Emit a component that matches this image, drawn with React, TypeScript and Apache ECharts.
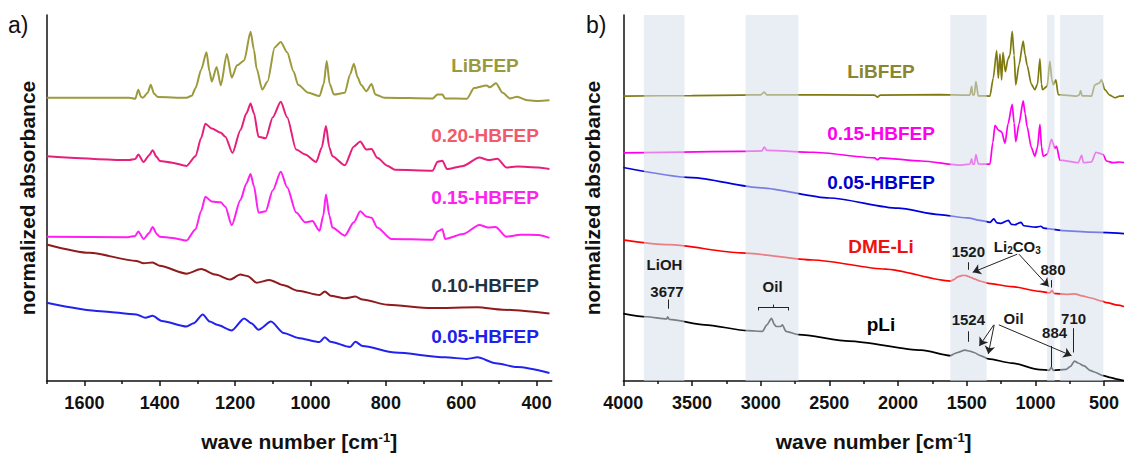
import React, { useEffect, useRef } from 'react';
import * as echarts from 'echarts';

const FONT = '"Liberation Sans", Arial, Helvetica, sans-serif';

// ---------- axes ----------
const A_TICKS = [1600, 1400, 1200, 1000, 800, 600, 400];
const A_MINOR = [1700, 1500, 1300, 1100, 900, 700, 500];
const B_TICKS = [4000, 3500, 3000, 2500, 2000, 1500, 1000, 500];
const B_MINOR = [3750, 3250, 2750, 2250, 1750, 1250, 750];

// ---------- panel a spectra: [wavenumber, offset absorbance (a.u.)] ----------
const A_LIBFEP: number[][] = [
  [1700, 291], [1481, 291], [1465, 290], [1457, 299.3], [1450, 292], [1445, 291], [1432, 296], [1424, 304.3],
  [1415, 295], [1405, 291.7], [1329, 291], [1315, 293], [1305, 301], [1290, 320], [1276, 337.7], [1268, 318],
  [1262, 307.7], [1249, 322.7], [1238, 303.7], [1222, 336], [1209, 311.7], [1195, 324.3], [1176, 329.3],
  [1159, 358.7], [1150, 340], [1143, 321], [1128, 299.3], [1114, 307.7], [1095, 342.7], [1079, 348.3],
  [1062, 337.7], [1045, 318], [1033, 304.3], [1005, 296], [976, 292.7], [965, 305], [957, 328.7], [949, 305],
  [938, 294.3], [909, 296], [895, 315], [885, 326], [875, 312], [866, 304.3], [852, 297.7], [838, 305],
  [828, 294.3], [804, 291], [676, 290.3], [663, 294.3], [650, 294.3], [643, 290.3], [585, 290], [566, 301],
  [533, 303.7], [524, 301.7], [508, 306], [490, 296], [471, 290.3], [452, 292], [423, 288.3], [395, 287.7],
  [366, 288.3],
];
const A_HB020: number[][] = [
  [1700, 231], [1481, 227], [1465, 228], [1457, 232.7], [1443, 225], [1428, 232], [1419, 237], [1408, 230],
  [1400, 226], [1367, 224.3], [1329, 221], [1305, 231], [1290, 250], [1279, 264.3], [1262, 259.3], [1238, 255],
  [1226, 251], [1207, 234.3], [1186, 257.7], [1170, 275], [1159, 285], [1150, 275], [1138, 251], [1119, 249.3],
  [1100, 271], [1079, 287], [1062, 271], [1038, 237.7], [1014, 232.7], [985, 225], [970, 240], [959, 262],
  [950, 240], [942, 231], [909, 221.7], [885, 241], [868, 246], [852, 237.7], [838, 238.3], [823, 229.3],
  [795, 221], [776, 217], [676, 216], [663, 225.3], [650, 226.3], [638, 217.7], [595, 221], [552, 229.7],
  [528, 227], [504, 228.3], [480, 219.3], [452, 220.3], [395, 219.3], [366, 217.7],
];
const A_HB015: number[][] = [
  [1700, 148.3], [1485, 147.7], [1465, 149], [1457, 153.7], [1443, 146], [1428, 152], [1419, 158.3], [1408, 151],
  [1400, 148.3], [1367, 147], [1329, 144.3], [1305, 156], [1290, 175], [1279, 189.3], [1262, 184.3], [1238, 183.7],
  [1226, 179], [1209, 160], [1186, 186], [1170, 203], [1159, 212.7], [1150, 200], [1138, 173], [1119, 174.3],
  [1100, 196], [1079, 215], [1062, 199], [1038, 173], [1014, 163], [995, 164.3], [976, 154.3], [966, 170],
  [959, 191.7], [950, 170], [942, 157.7], [909, 149.3], [885, 163], [868, 174.3], [852, 169], [838, 167.7],
  [823, 157.7], [786, 146], [676, 145], [663, 153.7], [650, 156], [643, 146], [595, 151], [552, 160.3],
  [528, 157.7], [509, 158.3], [480, 148.3], [442, 150.3], [395, 150], [366, 147],
];
const A_HB010: number[][] = [
  [1700, 140.3], [1586, 131.7], [1462, 123.3], [1443, 121], [1419, 121.7], [1400, 118.3], [1329, 110.3],
  [1290, 115], [1252, 109.3], [1214, 104.3], [1186, 109.3], [1166, 107.7], [1143, 101], [1109, 103.7],
  [1071, 98.3], [1033, 92.7], [976, 88.3], [962, 92], [947, 87.7], [909, 85], [881, 86.7], [862, 83.7],
  [795, 78.3], [680, 75], [557, 75.7], [490, 73.3], [366, 69.3],
];
const A_HB005: number[][] = [
  [1700, 80.3], [1557, 71.7], [1462, 68.3], [1438, 65], [1419, 67], [1395, 61.7], [1329, 56], [1310, 59.3],
  [1286, 68.3], [1267, 61], [1248, 57.7], [1209, 52], [1176, 64.3], [1157, 59.3], [1138, 52.7], [1105, 61],
  [1071, 49.3], [1033, 44.3], [976, 40], [962, 45], [947, 40.3], [895, 35], [881, 40.3], [862, 36],
  [776, 29.3], [643, 24.3], [585, 22.7], [557, 24.3], [509, 18.3], [452, 14.3], [366, 8.3],
];

// ---------- panel b spectra ----------
const B_LIBFEP: number[][] = [
  [4000, 292.7], [3500, 293.2], [3145, 293.7], [3000, 294], [2974, 296.7], [2955, 294], [2171, 293.7],
  [2150, 291.7], [2130, 293.7], [1695, 294.3], [1477, 293.7], [1464, 302.7], [1457, 294], [1445, 294],
  [1433, 307.7], [1416, 293], [1331, 292.7], [1307, 311], [1282, 339.3], [1270, 311], [1258, 336],
  [1246, 309.3], [1236, 337.7], [1219, 317.7], [1199, 331], [1185, 335], [1169, 359.3], [1155, 335],
  [1143, 304.3], [1119, 325], [1089, 349.3], [1075, 335], [1060, 324.3], [1030, 305], [1004, 299.3],
  [985, 305], [967, 331], [956, 305], [948, 299.3], [914, 303], [895, 328.3], [880, 310], [870, 304.3],
  [851, 309.3], [834, 294.3], [700, 292.7], [680, 294], [671, 298.3], [660, 293], [592, 292.7], [567, 304.3],
  [536, 306], [519, 309.3], [495, 299.3], [459, 293.7], [423, 291], [386, 292.7], [355, 293],
];
const B_HB015: number[][] = [
  [4000, 234.3], [3145, 236], [2990, 236.5], [2974, 240.3], [2955, 237], [2618, 235], [2171, 229.3],
  [2150, 227.3], [2130, 229.3], [1829, 226], [1539, 221.7], [1477, 222.7], [1464, 228.3], [1457, 222.7],
  [1445, 222.7], [1433, 232.7], [1416, 223], [1331, 222.7], [1310, 245], [1294, 262.7], [1270, 257.7],
  [1246, 256], [1221, 244.3], [1199, 264.3], [1169, 284.3], [1155, 265], [1143, 246], [1119, 264.3],
  [1089, 287.7], [1075, 275], [1060, 261], [1030, 240], [1004, 231], [985, 240], [967, 263.7], [955, 240],
  [943, 231], [914, 233], [883, 248.3], [858, 239.3], [846, 241], [822, 227], [688, 224.3], [663, 231.7],
  [650, 224.3], [592, 225], [559, 235], [536, 234], [507, 232.7], [483, 226], [435, 224.3], [386, 225],
  [355, 224.3],
];
const B_HB005: number[][] = [
  [4000, 219.3], [3500, 209], [3000, 198.5], [2500, 188], [2000, 177.5], [1700, 171], [1500, 167.5],
  [1380, 164.5], [1330, 163], [1303, 166.5], [1280, 162.5], [1250, 162], [1197, 165], [1175, 161],
  [1150, 160.5], [1105, 163], [1085, 159.5], [1000, 158], [961, 159], [940, 157], [884, 156], [800, 154.5],
  [600, 153], [355, 151.5],
];
const B_DMELI: number[][] = [
  [4000, 145], [3671, 140], [3145, 131.7], [2618, 124.3], [2092, 115], [1618, 102.7], [1590, 104.5],
  [1566, 107], [1530, 108.5], [1505, 108.3], [1470, 106.5], [1447, 105], [1400, 102.5], [1342, 100.3],
  [1171, 97], [968, 92], [895, 90.5], [880, 93], [865, 90], [776, 89], [712, 89.5], [660, 87.5], [603, 85.5],
  [513, 82], [482, 80.5], [400, 78], [355, 76.5],
];
const B_PLI: number[][] = [
  [4000, 69.3], [3829, 66], [3684, 63.7], [3677, 66], [3665, 63.3], [3408, 57.7], [3092, 51.7], [2987, 51],
  [2955, 57.7], [2921, 64.3], [2900, 58], [2887, 56], [2855, 56], [2842, 57.7], [2816, 51], [2724, 47.7],
  [2355, 41], [1829, 31.7], [1618, 26], [1590, 28], [1566, 29.3], [1513, 31.7], [1470, 30.5], [1447, 29.3],
  [1400, 26], [1342, 22.7], [1171, 18.3], [968, 11.7], [900, 11], [884, 14], [870, 11], [776, 12], [745, 15],
  [715, 20.5], [690, 18.5], [645, 15.5], [603, 11], [566, 9], [507, 5.5], [450, 3.5], [408, 2], [355, 0.3],
];

// shaded regions in panel b (wavenumber limits)
const B_BAND_START = [3850, 3110, 1620, 915, 820];
const B_BAND_END = [3555, 2725, 1355, 860, 505];

// series names (labels)
const A_NAMES = ['LiBFEP', '0.20-HBFEP', '0.15-HBFEP', '0.10-HBFEP', '0.05-HBFEP'];
const B_NAMES = ['LiBFEP', '0.15-HBFEP', '0.05-HBFEP', 'DME-Li', 'pLi'];
// label anchor positions (data coords)
const A_LABEL_WN = 537;
const A_LABEL_ABS = [324.3, 252.7, 188.7, 98.3, 46];
const B_LABEL_WN = 2124;
const B_LABEL_ABS = [318.3, 254.3, 203.7, 137.7, 57.7];

// annotations in panel b
const NOTE_TEXT = ['LiOH', '3677', 'Oil', '1520', 'Li{sub|2}CO{sub|3}', '880', '1524', 'Oil', '884', '710'];
const NOTE_WN = [3700, 3682, 2913, 1488, 1132, 872, 1488, 1159, 860, 722];
const NOTE_ABS = [119.3, 92, 97, 132.7, 137.7, 115, 62.7, 64.3, 50.3, 64.3];
// [w1, v1, w2, v2]
const NOTE_TICKS = [
  [3673, 83.7, 3673, 74.3], [1488, 122, 1488, 114.3], [887, 103.7, 887, 96], [1488, 51, 1488, 40.3],
  [882, 36, 882, 14.3], [722, 54.3, 722, 29.3],
  [3014, 76, 2798, 76], [3014, 76, 3014, 72.5], [2798, 76, 2798, 72.5], [2907, 76, 2907, 78.5],
];
const NOTE_ARROWS = [
  [1132, 130.3, 1456, 111.7], [1120, 130.3, 903, 97],
  [1303, 57.7, 1408, 36], [1300, 57.7, 1343, 27.7], [1266, 57.7, 737, 26],
];

const A_COLORS = ['#9c9a3c', '#e6207a', '#ff1ff0', '#8e1c1c', '#2222ee'];
const A_TEXT_COLORS = ['#999a3e', '#f05a6a', '#ff22ee', '#1f3343', '#2020ee'];
const B_COLORS = ['#7f7a10', '#ff00ee', '#0000dd', '#ff0000', '#000000'];
const B_TEXT_COLORS = ['#8a8630', '#ff00ee', '#0000cc', '#ee1111', '#000000'];

export default function App() {
  const ref = useRef<HTMLDivElement>(null);
  useEffect(() => {
    if (!ref.current) return;
    const chart = echarts.init(ref.current, undefined, { renderer: 'svg' });

    const axisName = {
      fontSize: 21, fontWeight: 'bold' as const, color: '#111', fontFamily: FONT,
      rich: { sup: { fontSize: 13, fontWeight: 'bold' as const, color: '#111', fontFamily: FONT, verticalAlign: 'top' as const } },
    };
    const mainX = (grid: number, min: number, max: number, ticks: number[]) => ({
      type: 'value', gridIndex: grid, min, max, inverse: true, position: 'bottom',
      name: 'wave number [cm{sup|-1}]', nameLocation: 'middle', nameGap: 50, nameTextStyle: axisName,
      axisLine: { show: true, onZero: false, lineStyle: { color: '#111', width: 1.5 } },
      axisTick: { show: true, customValues: ticks, length: 5, lineStyle: { color: '#111', width: 1.5 } },
      axisLabel: {
        show: true, customValues: ticks, margin: 13, fontSize: 18, fontWeight: 'bold', color: '#111', fontFamily: FONT,
        formatter: (v: number) => String(v),
      },
      splitLine: { show: false },
    });
    const minorX = (grid: number, min: number, max: number, ticks: number[]) => ({
      type: 'value', gridIndex: grid, min, max, inverse: true, position: 'bottom',
      axisLine: { show: false, onZero: false },
      axisTick: { show: true, customValues: ticks, length: 3, lineStyle: { color: '#111', width: 1.5 } },
      axisLabel: { show: false },
      splitLine: { show: false },
    });
    const yAx = (grid: number, gap: number) => ({
      type: 'value', gridIndex: grid, min: 0, max: 376,
      name: 'normalized absorbance', nameLocation: 'middle', nameGap: gap, nameRotate: 90,
      nameTextStyle: { fontSize: 21, fontWeight: 'bold', color: '#111', fontFamily: FONT },
      axisLine: { show: true, lineStyle: { color: '#111', width: 1.5 } },
      axisTick: { show: false }, axisLabel: { show: false }, splitLine: { show: false },
    });

    const line = (data: number[][], color: string, xIdx: number, yIdx: number, w = 1.6) => ({
      type: 'line', data, xAxisIndex: xIdx, yAxisIndex: yIdx, showSymbol: false, symbol: 'none',
      smooth: 0.25, smoothMonotone: 'x', z: 2, silent: true,
      lineStyle: { color, width: w },
    });

    const labelStyle = { opacity: 1, textBorderWidth: 0, textShadowBlur: 0 };

    const labels = (xIdx: number, yIdx: number, names: string[], wn: number, abs: number[], colors: string[]) => ({
      type: 'scatter', xAxisIndex: xIdx, yAxisIndex: yIdx, z: 6, silent: true, symbolSize: 1,
      itemStyle: { color: 'rgba(0,0,0,0)', opacity: 1 },
      data: names.map((n, i) => ({
        value: [wn, abs[i]],
        label: { show: true, position: 'inside', formatter: n, color: colors[i], fontSize: 19, fontWeight: 'bold', fontFamily: FONT, ...labelStyle },
      })),
    });

    const aSeries = [A_LIBFEP, A_HB020, A_HB015, A_HB010, A_HB005].map((d, i) => line(d, A_COLORS[i], 0, 0, 2));
    const bSeries = [B_LIBFEP, B_HB015, B_HB005, B_DMELI, B_PLI].map((d, i) => line(d, B_COLORS[i], 2, 1, 1.7));

    const bands = {
      type: 'line', xAxisIndex: 2, yAxisIndex: 1, data: [[4000, -50]], showSymbol: false, symbol: 'none', silent: true,
      lineStyle: { opacity: 0 }, z: 3,
      markArea: {
        silent: true, z: 4,
        itemStyle: { color: 'rgba(216,225,236,0.56)' },
        data: B_BAND_START.map((s, i) => [{ xAxis: s }, { xAxis: B_BAND_END[i] }]),
      },
    };

    const notes = {
      type: 'scatter', xAxisIndex: 2, yAxisIndex: 1, z: 6, silent: true, symbolSize: 1,
      itemStyle: { color: 'rgba(0,0,0,0)', opacity: 1 },
      data: NOTE_TEXT.map((t, i) => ({
        value: [NOTE_WN[i], NOTE_ABS[i]],
        label: {
          show: true, position: 'inside', formatter: t, color: '#1a1a1a', fontSize: 15, fontWeight: 'bold', fontFamily: FONT, ...labelStyle,
          rich: { sub: { fontSize: 10, fontWeight: 'bold', color: '#1a1a1a', fontFamily: FONT, verticalAlign: 'bottom', padding: [8, 0, 0, 0] } },
        },
      })),
      markLine: {
        silent: true, z: 6, symbol: 'none', symbolSize: 8, animation: false,
        label: { show: false },
        lineStyle: { color: '#222', width: 1, type: 'solid' },
        data: [
          ...NOTE_TICKS.map((t) => [{ coord: [t[0], t[1]], symbol: 'none' }, { coord: [t[2], t[3]], symbol: 'none' }]),
          ...NOTE_ARROWS.map((t) => [{ coord: [t[0], t[1]], symbol: 'none' }, { coord: [t[2], t[3]], symbol: 'arrow', symbolSize: 8 }]),
        ],
      },
    };

    chart.setOption({
      animation: false,
      backgroundColor: '#ffffff',
      grid: [
        { left: 46.7, top: 15, width: 505, height: 376 },
        { left: 623.3, top: 15, width: 500.7, height: 376 },
      ],
      xAxis: [mainX(0, 360, 1700, A_TICKS), minorX(0, 360, 1700, A_MINOR), mainX(1, 355, 4000, B_TICKS), minorX(1, 355, 4000, B_MINOR)],
      yAxis: [yAx(0, 9), yAx(1, 20)],
      graphic: [
        { type: 'text', left: 8, top: 13, style: { text: 'a)', fontSize: 23, fontFamily: FONT, fill: '#111' } },
        { type: 'text', left: 586, top: 13, style: { text: 'b)', fontSize: 23, fontFamily: FONT, fill: '#111' } },
      ],
      series: [
        ...aSeries, ...bSeries, bands,
        labels(0, 0, A_NAMES, A_LABEL_WN, A_LABEL_ABS, A_TEXT_COLORS),
        labels(2, 1, B_NAMES, B_LABEL_WN, B_LABEL_ABS, B_TEXT_COLORS),
        notes,
      ],
    });
    return () => chart.dispose();
  }, []);
  return <div ref={ref} style={{ position: 'fixed', left: 0, top: 0, width: 1124, height: 457, background: '#fff' }} />;
}
